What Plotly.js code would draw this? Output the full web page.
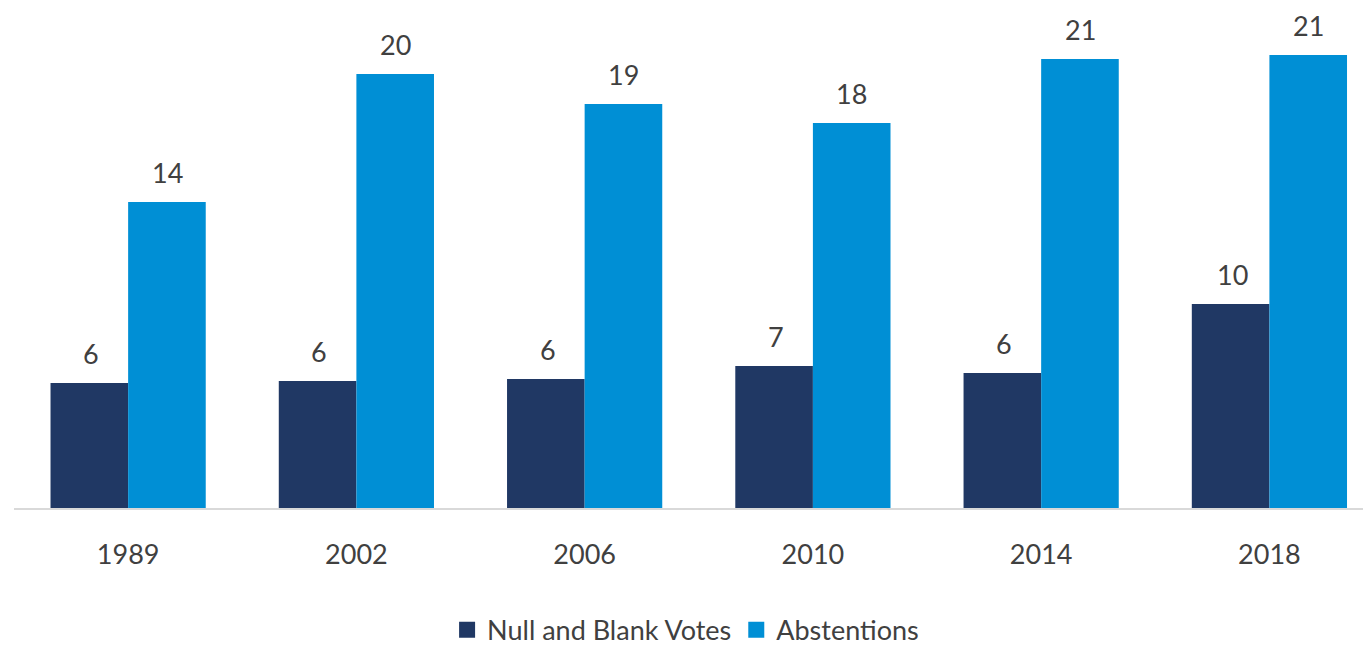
<!DOCTYPE html>
<html>
<head>
<meta charset="utf-8">
<script src="https://cdn.plot.ly/plotly-3.0.1.min.js"></script>
<style>html,body{margin:0;padding:0;background:#fff;}#chart{width:1363px;height:647px;}</style>
</head>
<body>
<div id="chart"></div>
<script>
var years = ['1989', '2002', '2006', '2010', '2014', '2018'];
var nullBlank = [5.87, 5.96, 6.06, 6.67, 6.34, 9.58];
var abstentions = [14.37, 20.38, 18.97, 18.08, 21.08, 21.27];
var seriesNames = ['Null and Blank Votes', 'Abstentions'];
var seriesColors = ['#203864', '#008FD5'];

var fontFam = 'Lato, "Open Sans", sans-serif';
var textColor = '#404040';

function mkBar(vals, color) {
  return {
    type: 'bar', x: years, y: vals, showlegend: false,
    marker: {color: color}, hoverinfo: 'skip'
  };
}
function mkLegend(name, color) {
  return {
    type: 'scatter', mode: 'markers', name: name, x: [years[0]], y: [null],
    marker: {symbol: 'square', size: 18, color: color}, hoverinfo: 'skip'
  };
}
var data = [
  mkBar(nullBlank, seriesColors[0]),
  mkBar(abstentions, seriesColors[1]),
  mkLegend(seriesNames[0], seriesColors[0]),
  mkLegend(seriesNames[1], seriesColors[1])
];

var annotations = [];
[nullBlank, abstentions].forEach(function (vals, si) {
  vals.forEach(function (v, i) {
    annotations.push({
      x: i, y: v, xref: 'x', yref: 'y',
      text: String(Math.round(v)), showarrow: false,
      xanchor: 'center', yanchor: 'bottom',
      xshift: si === 0 ? -37 : 39, yshift: 11,
      font: {family: fontFam, size: 27, color: textColor}
    });
  });
});

var layout = {
  width: 1363, height: 647,
  margin: {l: 14, r: 0, t: 0, b: 139},
  paper_bgcolor: '#fff', plot_bgcolor: '#fff',
  barmode: 'group', bargap: 0.32, bargroupgap: 0,
  font: {family: fontFam, color: textColor},
  xaxis: {
    type: 'category', range: [-0.5, 5.41],
    showline: true, linecolor: '#D9D9D9', linewidth: 2,
    ticks: '', showgrid: false, zeroline: false,
    tickfont: {family: fontFam, size: 27, color: textColor},
    ticklabelstandoff: 22
  },
  yaxis: {
    range: [0, 23.85], visible: false, showgrid: false, zeroline: false
  },
  annotations: annotations,
  showlegend: true,
  legend: {
    orientation: 'h', xref: 'container', yref: 'container',
    x: 0.503, xanchor: 'center', y: 0.026, yanchor: 'middle',
    font: {family: fontFam, size: 27, color: textColor},
    itemsizing: 'trace', traceorder: 'normal', tracegroupgap: 0
  }
};
Plotly.newPlot('chart', data, layout, {displayModeBar: false, staticPlot: true});
</script>
</body>
</html>
